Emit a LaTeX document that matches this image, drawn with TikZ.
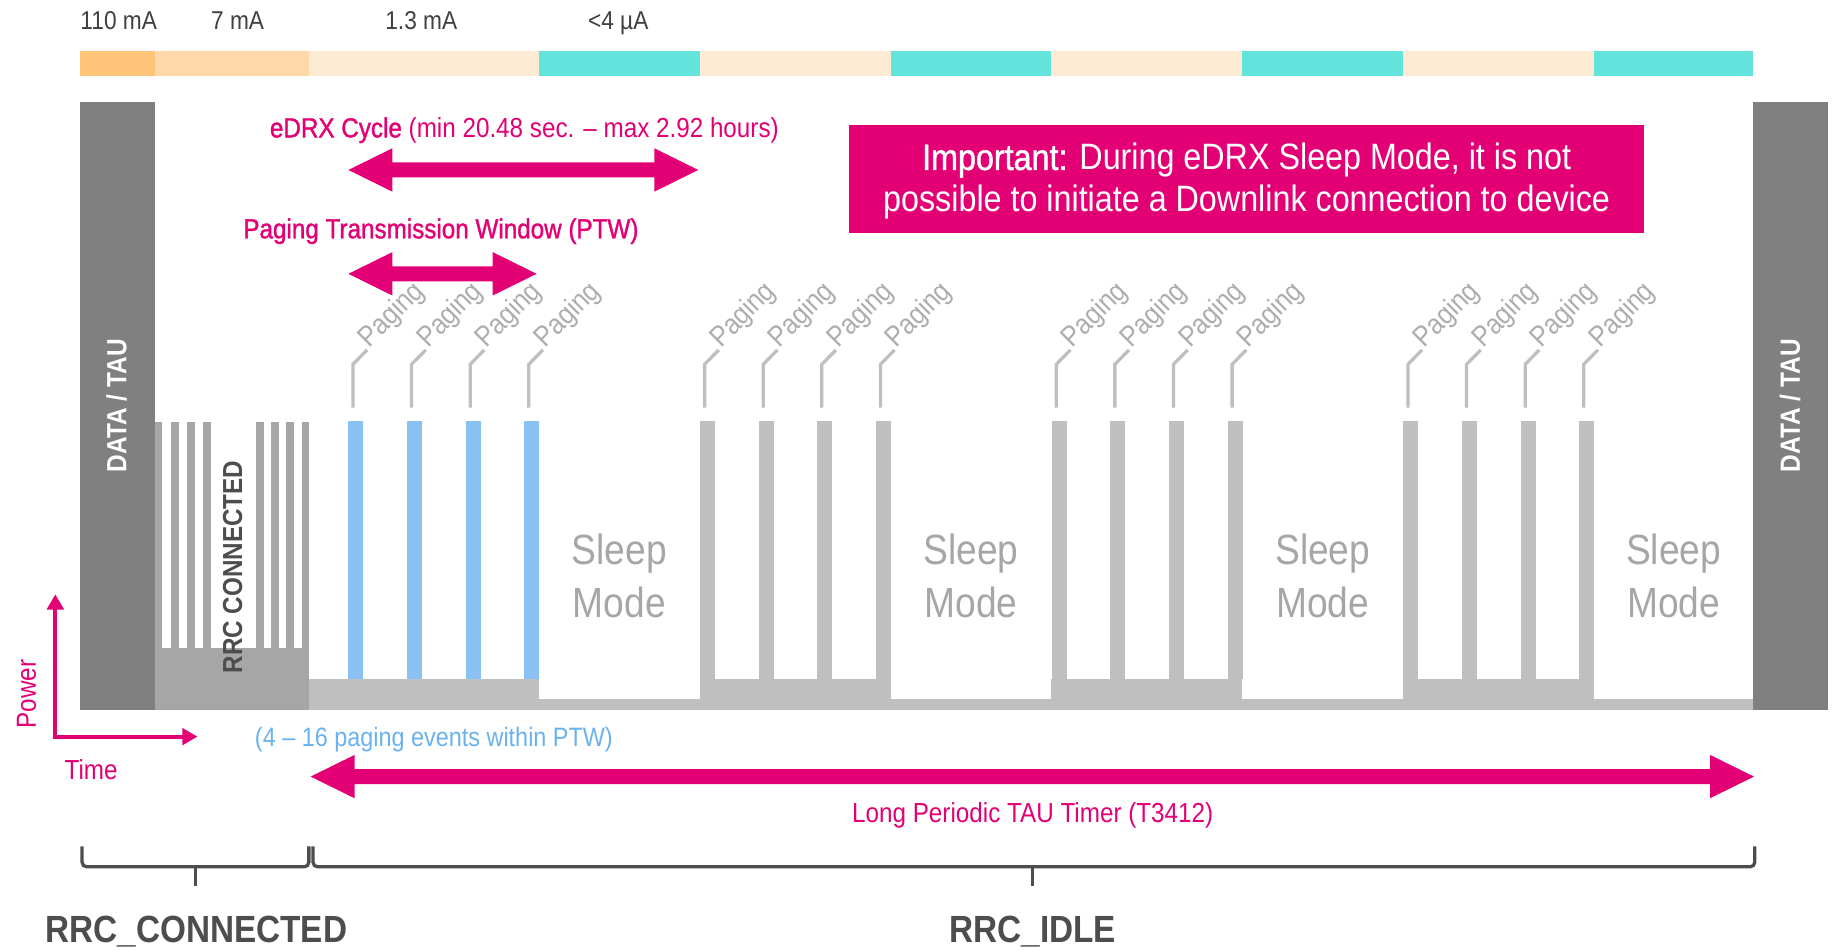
\documentclass[tikz,border=0pt]{standalone}
\usepackage{fontspec}
\setmainfont{Liberation Sans}[FakeStretch=0.88]
\newfontfamily\medfont{Liberation Sans}[FakeStretch=0.88,FakeBold=1.2]
\usetikzlibrary{calc,arrows.meta}
\definecolor{tmag}{HTML}{E20074}
\definecolor{c110}{HTML}{FEC47A}
\definecolor{c7}{HTML}{FED8A8}
\definecolor{clight}{HTML}{FEEBD3}
\definecolor{cteal}{HTML}{62E4DC}
\definecolor{cdata}{HTML}{808080}
\definecolor{crrc}{HTML}{A6A6A6}
\definecolor{cband}{HTML}{BFBFBF}
\definecolor{cblue}{HTML}{89C2F2}
\definecolor{cbluetxt}{HTML}{6AB2EE}
\definecolor{cdark}{HTML}{404040}
\definecolor{cdark2}{HTML}{4D4D4D}
\definecolor{cpagetxt}{HTML}{ADADAD}
\definecolor{csleep}{HTML}{A6A6A6}
\newcommand\fsz[1]{\fontsize{#1}{#1}\selectfont}
\newcommand\dblarrow[2]{%
  \fill[tmag] let \p1=(#1), \p2=(#2) in
   (\x1,\y1) -- (\x1+37.5pt,\y1+18.5pt) -- (\x1+37.5pt,\y1+6.4pt)
   -- (\x2-37.5pt,\y2+6.4pt) -- (\x2-37.5pt,\y2+18.5pt) -- (\x2,\y2)
   -- (\x2-37.5pt,\y2-18.5pt) -- (\x2-37.5pt,\y2-6.4pt)
   -- (\x1+37.5pt,\y1-6.4pt) -- (\x1+37.5pt,\y1-18.5pt) -- cycle;}
\tikzset{
  every node/.style={inner sep=0pt, outer sep=0pt},
  toplbl/.style={text=cdark, font=\fsz{22}},
  magtxt/.style={text=tmag, font=\fsz{23.5}},
  pagetxt/.style={text=cpagetxt, font=\fsz{24.5}},
  sleeptxt/.style={text=csleep, font=\fontsize{36}{45.5}\selectfont, align=center},
  bluetxt/.style={text=cbluetxt, font=\fsz{22.7}},
  imptxt/.style={text=white, font=\fsz{31.3}},
  datatxt/.style={text=white, font=\bfseries\fsz{23.7}},
  rrctxt/.style={text=cdark2, font=\bfseries\fsz{23.5}},
  bottxt/.style={text=cdark2, font=\bfseries\fsz{32.3}},
  leader/.style={draw=cband, line width=2.8pt},
  bracestyle/.style={draw=cdark2, line width=2.8pt, rounded corners=4pt},
  axis/.style={draw=tmag, line width=3.5pt, {Triangle[length=13pt,width=14pt]}-{Triangle[length=13pt,width=14pt]}},
}
\begin{document}
\begin{tikzpicture}[x=1pt,y=-1pt]
\useasboundingbox (0,0) rectangle (1568,811);

% ---- current labels ----
\node[toplbl, anchor=base] (l110) at (101.3,25) {110 mA};
\node[toplbl, anchor=base] (l7) at (202.7,25) {7 mA};
\node[toplbl, anchor=base] (l13) at (359.4,25) {1.3 mA};
\node[toplbl, anchor=base] (l4) at (527.4,25) {<4 µA};

% ---- top current bar ----
\fill[c110] (68.2,43.5) rectangle (132.2,64.8);
\fill[c7] (132.2,43.5) rectangle (263.6,64.8);
\foreach \a/\b in {263.6/459.8, 597/759.8, 897/1059.8, 1197/1359.8}
  \fill[clight] (\a,43.5) rectangle (\b,64.8);
\foreach \a/\b in {459.8/597, 759.8/897, 1059.8/1197, 1359.8/1495.6}
  \fill[cteal] (\a,43.5) rectangle (\b,64.8);

% ---- DATA / TAU bars ----
\fill[cdata] (68.2,87) rectangle (132.2,606);
\fill[cdata] (1495.6,87) rectangle (1559.3,606);
\node[datatxt, rotate=90] (dtl) at (99.5,346) {DATA / TAU};
\node[datatxt, rotate=90] (dtr) at (1527,346) {DATA / TAU};

% ---- RRC connected block ----
\fill[crrc] (132.2,553) rectangle (263.6,606);
\foreach \x in {132.2,146,159.8,173.5,218.5,231.5,244.3,257.3}
  \fill[crrc] (\x,359.7) rectangle (\x+6.3,553.5);
\node[rrctxt, rotate=90] (rrcc) at (198.5,483.7) {RRC CONNECTED};

% ---- idle band ----
\fill[cband] (263.6,579.2) rectangle (1495.6,606);
\foreach \a/\b in {459.8/597, 759.8/897, 1059.8/1197, 1359.8/1495.6}
  \fill[white] (\a,578) rectangle (\b,596.7);

% ---- paging bars, leaders, labels ----
\foreach \g in {0,1,2,3} {
  \foreach \i in {0,1,2,3} {
    \pgfmathsetmacro\bx{297.2+300*\g+50*\i}
    \ifnum\g=0 \def\bc{cblue}\else\def\bc{cband}\fi
    \fill[\bc] (\bx,359.5) rectangle (\bx+12.8,579.2);
    \node[pagetxt, rotate=45, anchor=base west] (pg-\g-\i) at (\bx+18,297.5) {Paging};
    \draw[leader] (\bx+3.9,347.8) -- (\bx+3.9,310.8) -- ([shift={(-2pt,-1pt)}]pg-\g-\i.base west);
  }
}

% ---- sleep mode labels ----
\foreach \c/\n in {528.4/1, 828.4/2, 1128.4/3, 1427.7/4}
  \node[sleeptxt] (sleep\n) at (\c,491.5) {Sleep\\Mode};

% ---- eDRX cycle ----
\node[magtxt, anchor=base west] (edrx) at (230.3,117.2) {{\medfont eDRX Cycle} (min 20.48 sec. – max 2.92 hours)};
\coordinate (edrxL) at (297.2,145);
\coordinate (edrxR) at (595.7,145);
\dblarrow{edrxL}{edrxR}

% ---- PTW ----
\node[magtxt, anchor=base west, font=\medfont\fsz{23.5}] (ptw) at (207.6,203.3) {Paging Transmission Window (PTW)};
\coordinate (ptwL) at (297.2,233.6);
\coordinate (ptwR) at (457.8,233.6);
\dblarrow{ptwL}{ptwR}

% ---- Important box ----
\node[fill=tmag, minimum width=677.8pt, minimum height=91.9pt] (impbox) at (1063.5,152.55) {};
\node[imptxt, anchor=base] (imp1) at (1063.5,145) {{\medfont Important:} During eDRX Sleep Mode, it is not};
\node[imptxt, anchor=base] (imp2) at (1063.5,180.6) {possible to initiate a Downlink connection to device};

% ---- axes ----
\coordinate (axO) at (47.2,628.4);
\coordinate (axY) at (47.2,507);
\coordinate (axX) at (168.5,628.4);
\draw[axis] (axY) -- (axO) -- (axX);
\node[magtxt, rotate=90, anchor=base] (power) at (30.5,592) {Power};
\node[magtxt, anchor=base] (time) at (77.7,665.4) {Time};

% ---- paging events note ----
\node[bluetxt, anchor=base west] (pev) at (217.5,637) {(4 – 16 paging events within PTW)};

% ---- TAU timer ----
\coordinate (tauL) at (265,662.5);
\coordinate (tauR) at (1496.3,662.5);
\dblarrow{tauL}{tauR}
\node[magtxt, anchor=base] (tau) at (881,702) {Long Periodic TAU Timer (T3412)};

% ---- braces ----
\draw[bracestyle] (70,722) -- (70,739.5) -- (263.5,739.5) -- (263.5,722);
\draw[bracestyle] (167,739.5) -- (167,756);
\draw[bracestyle] (267,722) -- (267,739.5) -- (1497,739.5) -- (1497,722);
\draw[bracestyle] (881,739.5) -- (881,756);
\node[bottxt, anchor=base] (rrccon) at (167.5,804) {RRC\_CONNECTED};
\node[bottxt, anchor=base] (rrcidle) at (881,804) {RRC\_IDLE};
\end{tikzpicture}
\end{document}
